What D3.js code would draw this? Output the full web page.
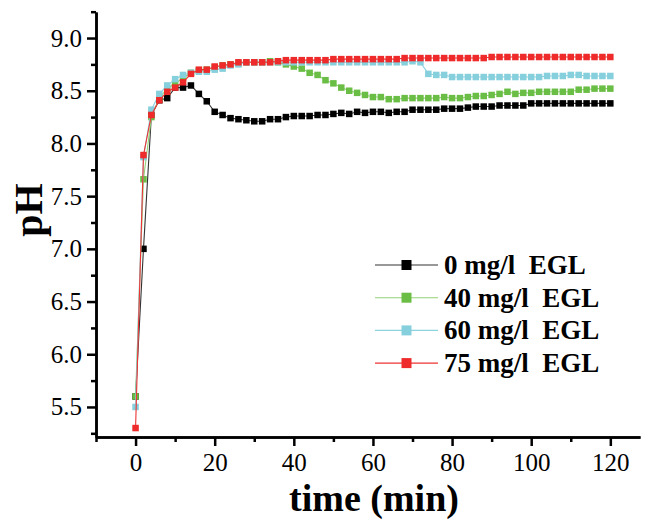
<script src="https://d3js.org/d3.v7.min.js"></script>

<style>
  body { margin: 0; background: #fff; }
  text { font-family: "Liberation Serif", "Times New Roman", serif; }
</style>

<body>
  <div id="chart"></div>
</body>

<script>
// time points, every 2 min from 0 to 120
var times = d3.range(0, 121, 2)

var seriesNames = ["0 mg/l\u00a0 EGL", "40 mg/l\u00a0 EGL", "60 mg/l\u00a0 EGL", "75 mg/l\u00a0 EGL"]

var ph0 = [5.6, 7.0, 8.27, 8.41, 8.43, 8.53, 8.53, 8.55, 8.47, 8.40,
  8.30, 8.27, 8.24, 8.23, 8.22, 8.21, 8.21, 8.23, 8.23, 8.25,
  8.26, 8.26, 8.26, 8.27, 8.27, 8.28, 8.29, 8.28, 8.30, 8.29,
  8.30, 8.30, 8.29, 8.30, 8.30, 8.32, 8.32, 8.32, 8.32, 8.33,
  8.33, 8.33, 8.34, 8.35, 8.35, 8.35, 8.36, 8.36, 8.36, 8.36,
  8.38, 8.38, 8.38, 8.38, 8.38, 8.38, 8.38, 8.38, 8.38, 8.38,
  8.38]

var ph40 = [5.6, 7.66, 8.25, 8.43, 8.52, 8.57, 8.62, 8.67, 8.69, 8.70,
  8.72, 8.74, 8.75, 8.76, 8.77, 8.77, 8.77, 8.78, 8.77, 8.75,
  8.73, 8.71, 8.67, 8.65, 8.60, 8.57, 8.53, 8.50, 8.48, 8.46,
  8.44, 8.44, 8.42, 8.42, 8.43, 8.43, 8.43, 8.43, 8.43, 8.44,
  8.43, 8.43, 8.44, 8.45, 8.45, 8.46, 8.47, 8.49, 8.47, 8.48,
  8.48, 8.49, 8.49, 8.49, 8.49, 8.49, 8.51, 8.51, 8.52, 8.52,
  8.52]

var ph60 = [5.5, 7.87, 8.32, 8.47, 8.55, 8.61, 8.65, 8.67, 8.68, 8.68,
  8.70, 8.71, 8.74, 8.75, 8.77, 8.77, 8.77, 8.77, 8.77, 8.77,
  8.77, 8.77, 8.77, 8.77, 8.77, 8.77, 8.77, 8.77, 8.77, 8.77,
  8.77, 8.77, 8.77, 8.77, 8.77, 8.78, 8.77, 8.66, 8.65, 8.65,
  8.63, 8.63, 8.63, 8.63, 8.63, 8.63, 8.63, 8.63, 8.63, 8.63,
  8.63, 8.63, 8.64, 8.64, 8.64, 8.65, 8.65, 8.64, 8.64, 8.64,
  8.64]

var ph75 = [5.3, 7.89, 8.27, 8.41, 8.49, 8.53, 8.58, 8.66, 8.70, 8.70,
  8.73, 8.74, 8.75, 8.77, 8.77, 8.77, 8.77, 8.77, 8.78, 8.79,
  8.79, 8.79, 8.79, 8.79, 8.79, 8.80, 8.80, 8.80, 8.80, 8.80,
  8.80, 8.80, 8.80, 8.80, 8.81, 8.81, 8.81, 8.81, 8.81, 8.81,
  8.81, 8.81, 8.81, 8.81, 8.81, 8.82, 8.82, 8.82, 8.82, 8.82,
  8.82, 8.82, 8.82, 8.82, 8.82, 8.82, 8.82, 8.82, 8.82, 8.82,
  8.82]

var xMajor = [0, 20, 40, 60, 80, 100, 120]
var xMinor = [-10, 10, 30, 50, 70, 90, 110]
var yMajor = [5.5, 6.0, 6.5, 7.0, 7.5, 8.0, 8.5, 9.0]
var yMinor = [5.25, 5.75, 6.25, 6.75, 7.25, 7.75, 8.25, 8.75, 9.25]

var allSeries = [ph0, ph40, ph60, ph75]
var markColors = ["#000000", "#6abd45", "#86cfdc", "#ee2a2a"]
var lineColors = ["#333333", "#93d276", "#8cd3e0", "#ee3333"]

var width = 645, height = 523

var svg = d3.select("#chart")
  .append("svg")
  .attr("width", width)
  .attr("height", height)

var x = d3.scaleLinear()
  .domain([-10, 127.5])
  .range([96, 640])

var y = d3.scaleLinear()
  .domain([5.215, 9.247])
  .range([437, 12])

// axes
svg.append("g")
  .attr("transform", "translate(0," + y.range()[0] + ")")
  .call(d3.axisBottom(x).tickValues(xMajor).tickSize(9).tickSizeOuter(0).tickPadding(7))
svg.append("g")
  .attr("transform", "translate(0," + y.range()[0] + ")")
  .call(d3.axisBottom(x).tickValues(xMinor).tickSize(5).tickSizeOuter(0).tickFormat(""))

svg.append("g")
  .attr("transform", "translate(" + x.range()[0] + ",0)")
  .call(d3.axisLeft(y).tickValues(yMajor).tickSize(9).tickSizeOuter(0).tickPadding(5).tickFormat(d3.format(".1f")))
svg.append("g")
  .attr("transform", "translate(" + x.range()[0] + ",0)")
  .call(d3.axisLeft(y).tickValues(yMinor).tickSize(5).tickSizeOuter(0).tickFormat(""))

svg.selectAll(".domain, .tick line")
  .attr("stroke", "#000")
  .attr("stroke-width", 2.5)
svg.selectAll("g").attr("font-family", null).attr("font-size", null)
svg.selectAll(".tick text")
  .attr("fill", "#000")
  .style("font-size", "25px")
  .style("font-family", "'Liberation Serif', 'Times New Roman', serif")

// axis titles
svg.append("text")
  .attr("x", 374)
  .attr("y", 511)
  .attr("text-anchor", "middle")
  .style("font-size", "38px")
  .style("font-weight", "bold")
  .text("time (min)")

svg.append("text")
  .attr("transform", "translate(42,210) rotate(-90)")
  .attr("text-anchor", "middle")
  .style("font-size", "40px")
  .style("font-weight", "bold")
  .text("pH")

// lines and markers
var line = d3.line()
  .x(function(d, i) { return x(times[i]) })
  .y(function(d) { return y(d) })

var ms = 6.5
allSeries.forEach(function(vals, k) {
  svg.append("path")
    .datum(vals)
    .attr("d", line)
    .attr("fill", "none")
    .attr("stroke", lineColors[k])
    .attr("stroke-width", 1.1)

  svg.append("g").selectAll("rect")
    .data(vals)
    .enter()
    .append("rect")
    .attr("x", function(d, i) { return x(times[i]) - ms / 2 })
    .attr("y", function(d) { return y(d) - ms / 2 })
    .attr("width", ms)
    .attr("height", ms)
    .attr("fill", markColors[k])
})

// legend
var legend = svg.append("g")
seriesNames.forEach(function(name, k) {
  var ly = 265 + k * 32.7
  legend.append("line")
    .attr("x1", 375).attr("x2", 438)
    .attr("y1", ly).attr("y2", ly)
    .attr("stroke", lineColors[k])
    .attr("stroke-width", 1.1)
  legend.append("rect")
    .attr("x", 406.5 - 5).attr("y", ly - 5)
    .attr("width", 10).attr("height", 10)
    .attr("fill", markColors[k])
  legend.append("text")
    .attr("x", 444)
    .attr("y", ly + 9)
    .style("font-size", "27px")
    .style("font-weight", "bold")
    .text(name)
})
</script>
